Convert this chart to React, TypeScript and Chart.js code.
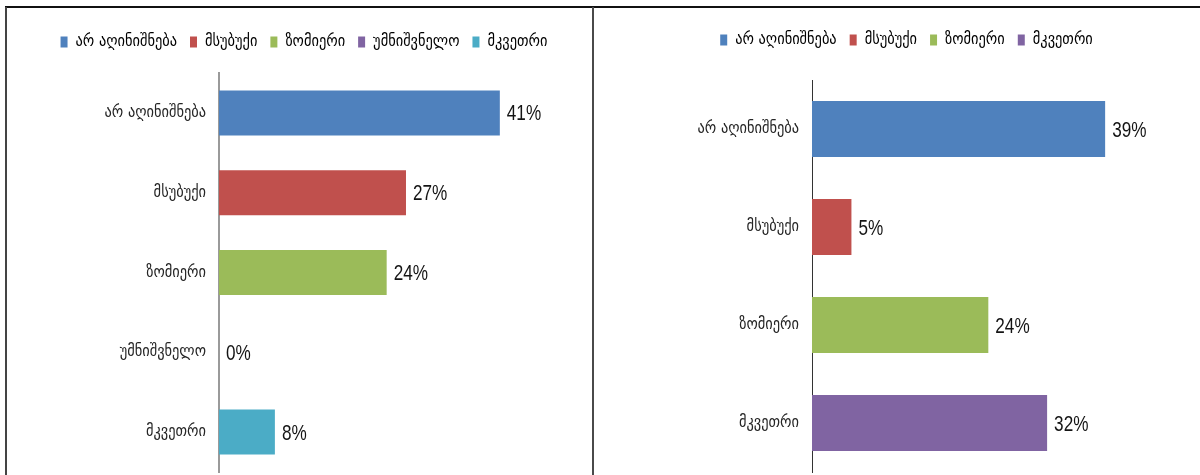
import React, { useEffect, useRef } from "react";
import { Chart, registerables } from "chart.js";

Chart.register(...registerables);

// ---------- data ----------
const leftCategories = ["არ აღინიშნება", "მსუბუქი", "ზომიერი", "უმნიშვნელო", "მკვეთრი"];
const leftValues = [40.7, 27.1, 24.3, 0, 8.1];
const leftColors = ["#4F81BD", "#C0504D", "#9BBB59", "#8064A2", "#4BACC6"];

const rightCategories = ["არ აღინიშნება", "მსუბუქი", "ზომიერი", "მკვეთრი"];
const rightValues = [39.4, 5.3, 23.7, 31.6];
const rightColors = ["#4F81BD", "#C0504D", "#9BBB59", "#8064A2"];

const axisMax = 50;

const GEO_FONT = "'DejaVu Sans Condensed', 'DejaVu Sans', sans-serif";
const NUM_FONT = "'Liberation Sans', Arial, sans-serif";

const valueLabels = {
  id: "valueLabels",
  afterDatasetsDraw(chart: any) {
    const ctx = chart.ctx;
    const meta = chart.getDatasetMeta(0);
    const data = chart.data.datasets[0].data as number[];
    const squeeze = 0.78;
    meta.data.forEach((bar: any, i: number) => {
      ctx.save();
      ctx.font = "22px " + NUM_FONT;
      ctx.fillStyle = "#141414";
      ctx.textBaseline = "middle";
      ctx.textAlign = "left";
      ctx.translate(bar.x + 7, bar.y + 1.5);
      ctx.scale(squeeze, 1);
      ctx.fillText(Math.round(data[i]) + "%", 0, 0);
      ctx.restore();
    });
  },
};

type PanelProps = {
  categories: string[];
  values: number[];
  colors: string[];
  yWidth: number;
  padding: { left: number; right: number; top: number; bottom: number };
  spacer: number;
  axisColor: string;
  axisWidth: number;
  barPct: number;
  left: number;
  width: number;
  height: number;
};

function BarPanel(p: PanelProps) {
  const ref = useRef<HTMLCanvasElement | null>(null);
  useEffect(() => {
    if (!ref.current) return;
    const chart = new Chart(ref.current, {
      type: "bar",
      data: {
        labels: p.categories,
        datasets: [
          {
            data: p.values,
            backgroundColor: p.colors,
            borderWidth: 0,
            barPercentage: p.barPct,
            categoryPercentage: 1,
          },
        ],
      },
      options: {
        indexAxis: "y",
        animation: false,
        responsive: false,
        maintainAspectRatio: false,
        devicePixelRatio: 1,
        layout: { padding: p.padding },
        scales: {
          x: {
            position: "top",
            min: 0,
            max: axisMax,
            display: true,
            ticks: { display: false },
            grid: { display: false, drawTicks: true, tickLength: p.spacer },
            border: { display: false },
          },
          y: {
            position: "left",
            grid: { display: false, drawTicks: true, tickLength: 13 },
            border: { display: true, color: p.axisColor, width: p.axisWidth },
            ticks: {
              padding: 0,
              color: "#262626",
              font: { family: GEO_FONT, size: 16 },
            },
            afterFit: (scale: any) => {
              scale.width = p.yWidth;
            },
          },
        },
        plugins: {
          tooltip: { enabled: false },
          legend: {
            display: true,
            position: "top",
            align: "center",
            onClick: () => {},
            labels: {
              boxWidth: 7,
              boxHeight: 11,
              padding: 13,
              color: "#000",
              font: { family: GEO_FONT, size: 16 },
              generateLabels: () =>
                p.categories.map((c, i) => ({
                  text: c,
                  fillStyle: p.colors[i],
                  strokeStyle: p.colors[i],
                  lineWidth: 0,
                  hidden: false,
                  index: i,
                  fontColor: "#000",
                })),
            },
          },
        },
      },
      plugins: [valueLabels],
    });
    return () => chart.destroy();
  }, []);
  return (
    <canvas
      ref={ref}
      width={p.width}
      height={p.height}
      style={{ position: "absolute", left: p.left, top: 8, width: p.width, height: p.height }}
    />
  );
}

export default function App() {
  return (
    <div
      style={{
        position: "fixed",
        left: 0,
        top: 0,
        width: 1200,
        height: 475,
        overflow: "hidden",
        background: "#fff",
      }}
    >
      <div style={{ position: "absolute", left: 5, top: 6, width: 1195, height: 2, background: "#111" }} />
      <div style={{ position: "absolute", left: 5, top: 7, width: 2, height: 470, background: "#444" }} />
      <div style={{ position: "absolute", left: 592, top: 7, width: 2, height: 470, background: "#4a4a4a" }} />
      <BarPanel
        categories={leftCategories}
        values={leftValues}
        colors={leftColors}
        yWidth={175}
        padding={{ left: 37, right: 28, top: 13, bottom: 12 }}
        spacer={13}
        axisColor="#9a9a9a"
        axisWidth={2}
        barPct={0.564}
        left={7}
        width={585}
        height={476}
      />
      <BarPanel
        categories={rightCategories}
        values={rightValues}
        colors={rightColors}
        yWidth={183}
        padding={{ left: 35, right: 16, top: 11, bottom: 12 }}
        spacer={22}
        axisColor="#333"
        axisWidth={1}
        barPct={0.571}
        left={594}
        width={606}
        height={476}
      />
    </div>
  );
}
